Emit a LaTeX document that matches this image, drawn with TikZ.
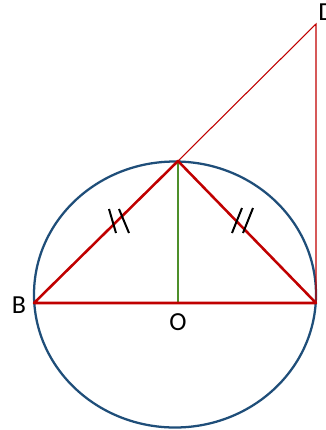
\documentclass[tikz,border=0pt]{standalone}
\usepackage{fontspec}
\setmainfont{Carlito}
\definecolor{cblue}{HTML}{1F4E79}
\definecolor{cred}{HTML}{C00000}
\definecolor{cgreen}{HTML}{4E8F2A}
\begin{document}
\begin{tikzpicture}[x=0.75pt,y=-0.75pt,
  thickred/.style={cred,line width=1.9pt,line join=round},
  thinred/.style={cred,line width=0.8pt},
  tick/.style={black,line width=1.5pt},
  lbl/.style={font=\fontsize{19.5}{22}\selectfont,inner sep=0pt}]
\useasboundingbox (0,0) rectangle (326,430);
\clip (0,0) rectangle (326,430);
\coordinate (A) at (178,161);
\coordinate (B) at (34,303);
\coordinate (C) at (316,303);
\coordinate (O) at (178,303);
\coordinate (D) at (316,24);
\draw[cblue,line width=1.7pt] (175,294.5) ellipse [x radius=141, y radius=133];
\draw[thinred] (A) -- (D) -- (C);
\draw[cgreen,line width=0.8pt] (A) -- (O);
\draw[thickred] (B) -- (A) -- (C) -- cycle;
\draw[tick] (109,209) -- (116,233) (119,209) -- (129,233);
\draw[tick] (242,208) -- (232,233) (253,208) -- (243,233);
\node[lbl] (Bl) at (19,305) {B};
\node[lbl] (Ol) at (178,322) {O};
\node[lbl,anchor=west] (Dl) at (318,12) {D};
\end{tikzpicture}
\end{document}
